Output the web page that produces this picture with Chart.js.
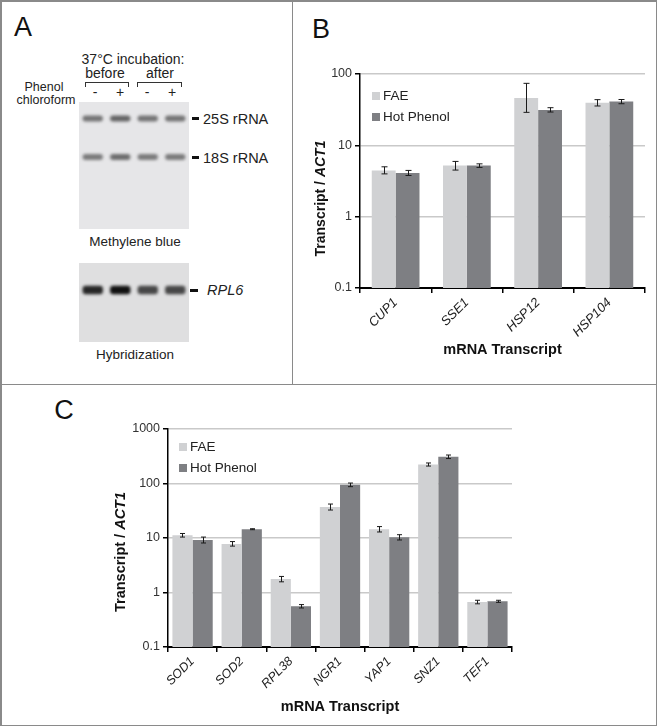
<!DOCTYPE html>
<html>
<head>
<meta charset="utf-8">
<script src="https://cdn.jsdelivr.net/npm/chart.js@4.4.1/dist/chart.umd.min.js"></script>
<style>
  body { margin: 0; background: #fff; }
  #fig { position: relative; width: 657px; height: 727px; font-family: "Liberation Sans", Arial, sans-serif; color: #222; }
  #fig canvas { position: absolute; }
  .t { position: absolute; transform: translate(-50%, -50%); white-space: nowrap; line-height: 1; }
  .tl { position: absolute; transform: translate(0, -50%); white-space: nowrap; line-height: 1; }
  .dash { position: absolute; height: 2.5px; background: #111; }
  .bracket { position: absolute; height: 4px; border: 1.2px solid #333; border-bottom: none; }
  .frame { position: absolute; background: #8a8a8a; }
  .panel { position: absolute; transform: translate(-50%, -50%); font-size: 27px; line-height: 1; color: #111; }
  .legend { position: absolute; font-size: 13.5px; line-height: 1; }
  .legend div { display: flex; align-items: center; height: 21px; }
  .legend span.sw { display: inline-block; width: 8px; height: 8px; margin-right: 3px; }
</style>
</head>
<body>
<div id="fig">
  <!-- frame -->
  <div class="frame" style="left:0;top:0;width:657px;height:1.5px"></div>
  <div class="frame" style="left:0;top:724.5px;width:657px;height:1.5px"></div>
  <div class="frame" style="left:0;top:0;width:1.5px;height:726px"></div>
  <div class="frame" style="left:655.5px;top:0;width:1.5px;height:726px"></div>
  <div class="frame" style="left:291.5px;top:0;width:1.5px;height:384px"></div>
  <div class="frame" style="left:0;top:383.5px;width:657px;height:1.5px"></div>

  <div class="panel" style="left:23px;top:27px">A</div>
  <div class="panel" style="left:321px;top:29px">B</div>
  <div class="panel" style="left:64px;top:410px">C</div>

  <!-- panel A labels -->
  <div class="t" style="left:133px;top:59px;font-size:14px">37°C incubation:</div>
  <div class="t" style="left:105px;top:73px;font-size:14px">before</div>
  <div class="t" style="left:160px;top:73px;font-size:14px">after</div>
  <div class="bracket" style="left:85px;top:82px;width:42px"></div>
  <div class="bracket" style="left:137px;top:82px;width:43px"></div>
  <div class="t" style="left:44px;top:87px;font-size:12.5px">Phenol</div>
  <div class="t" style="left:46px;top:100px;font-size:12.5px">chloroform</div>
  <div id="laneLabels"></div>

  <canvas id="gelTop" width="110" height="127" style="left:79px;top:102px"></canvas>
  <div class="dash" style="left:192px;top:117px;width:7px"></div>
  <div class="tl" style="left:203px;top:118.5px;font-size:14.5px">25S rRNA</div>
  <div class="dash" style="left:192px;top:156px;width:7px"></div>
  <div class="tl" style="left:203px;top:157.5px;font-size:14.5px">18S rRNA</div>
  <div class="t" style="left:135px;top:242px;font-size:13.5px">Methylene blue</div>

  <canvas id="gelBottom" width="110" height="79" style="left:79px;top:263px"></canvas>
  <div class="dash" style="left:190px;top:289px;width:8px"></div>
  <div class="tl" style="left:207px;top:290px;font-size:14.5px;font-style:italic">RPL6</div>
  <div class="t" style="left:135px;top:355px;font-size:13.5px">Hybridization</div>

  <canvas id="chartB" width="363" height="340" style="left:293px;top:40px"></canvas>
  <div class="legend" id="legendB" style="left:372px;top:85px"></div>

  <canvas id="chartC" width="430" height="325" style="left:100px;top:400px"></canvas>
  <div class="legend" id="legendC" style="left:179px;top:436px"></div>
</div>

<script>
// ---- data ----
const seriesNames = ['FAE', 'Hot Phenol'];

const genesB = ['CUP1', 'SSE1', 'HSP12', 'HSP104'];
const faeB = [4.45, 5.2, 46, 39.5];
const hotPhenolB = [4.1, 5.2, 31.4, 41];
const faeRangeB = [[3.98, 5.0], [4.5, 5.95], [29, 74], [35.6, 43.7]];
const hotPhenolRangeB = [[3.78, 4.45], [4.9, 5.5], [29.3, 33.7], [38.3, 43.9]];
const yTicksB = [0.1, 1, 10, 100];
const yTickLabelsB = ['0.1', '1', '10', '100'];

const genesC = ['SOD1', 'SOD2', 'RPL38', 'NGR1', 'YAP1', 'SNZ1', 'TEF1'];
const faeC = [11.2, 7.8, 1.76, 37, 14.5, 223, 0.67];
const hotPhenolC = [9.2, 14.5, 0.56, 94.5, 10.3, 309, 0.69];
const faeRangeC = [[10.4, 12.1], [7.1, 8.6], [1.57, 1.97], [32.6, 42], [12.9, 16.2], [209, 238], [0.62, 0.72]];
const hotPhenolRangeC = [[8.1, 10.4], [14.2, 14.8], [0.52, 0.6], [87.5, 102], [9.2, 11.5], [287, 333], [0.66, 0.72]];
const yTicksC = [0.1, 1, 10, 100, 1000];
const yTickLabelsC = ['0.1', '1', '10', '100', '1000'];

// gel: lanes, phenol chloroform treatment, band darkness per lane, band migration
const gelLanes = ['before -', 'before +', 'after -', 'after +'];
const phenolLabels = ['-', '+', '-', '+'];
const band25S = [0.6, 0.68, 0.6, 0.6];
const band18S = [0.56, 0.64, 0.56, 0.56];
const bandRPL6 = [0.88, 0.98, 0.72, 0.72];
const migration25S = 16.5;
const migration18S = 55;
const migrationRPL6 = 27;

// ---- style ----
const FONT = '"Liberation Sans", Arial, sans-serif';
const FAE_COLOR = '#d0d1d3';
const HP_COLOR = '#7e7f83';
const GRID_COLOR = '#c9c9c9';

// lane labels above the gel
const laneX = [95, 120, 147, 172];
phenolLabels.forEach((s, i) => {
    const d = document.createElement('div');
    d.className = 't';
    d.style.cssText = `left:${laneX[i]}px;top:92px;font-size:14px`;
    d.textContent = s;
    document.getElementById('laneLabels').appendChild(d);
});

function buildLegend(id) {
    const el = document.getElementById(id);
    [FAE_COLOR, HP_COLOR].forEach((c, i) => {
        const row = document.createElement('div');
        row.innerHTML = `<span class="sw" style="background:${c}"></span>${seriesNames[i]}`;
        el.appendChild(row);
    });
}
buildLegend('legendB');
buildLegend('legendC');

// ---- plugins ----
const gelBackground = {
    id: 'gelBackground',
    beforeDraw(chart, args, opts) {
        const { ctx, chartArea: a } = chart;
        ctx.save();
        ctx.fillStyle = opts.color;
        ctx.fillRect(a.left, a.top, a.right - a.left, a.bottom - a.top);
        ctx.restore();
    },
    beforeDatasetsDraw(chart, args, opts) {
        chart.ctx.save();
        chart.ctx.filter = `blur(${opts.blur}px)`;
    },
    afterDatasetsDraw(chart) {
        chart.ctx.restore();
    }
};

const errorBars = {
    id: 'errorBars',
    afterDatasetsDraw(chart, args, opts) {
        const { ctx } = chart;
        const y = chart.scales.y;
        ctx.save();
        ctx.strokeStyle = '#1a1a1a';
        ctx.lineWidth = 1;
        chart.data.datasets.forEach((ds, di) => {
            const meta = chart.getDatasetMeta(di);
            meta.data.forEach((bar, i) => {
                const [lo, hi] = opts.ranges[di][i];
                const x = Math.round(bar.x) + 0.5;
                const yl = y.getPixelForValue(lo);
                const yh = y.getPixelForValue(hi);
                ctx.beginPath();
                ctx.moveTo(x, yl); ctx.lineTo(x, yh);
                ctx.moveTo(x - opts.cap, yl); ctx.lineTo(x + opts.cap, yl);
                ctx.moveTo(x - opts.cap, yh); ctx.lineTo(x + opts.cap, yh);
                ctx.stroke();
            });
        });
        ctx.restore();
    }
};

const yTitle = {
    id: 'yTitle',
    afterDraw(chart, args, opts) {
        const { ctx, chartArea: a } = chart;
        const part1 = 'Transcript / ';
        const part2 = 'ACT1';
        ctx.save();
        ctx.fillStyle = '#111';
        ctx.textBaseline = 'middle';
        ctx.font = `bold ${opts.size}px ${FONT}`;
        const w1 = ctx.measureText(part1).width;
        ctx.font = `italic bold ${opts.size}px ${FONT}`;
        const w2 = ctx.measureText(part2).width;
        ctx.translate(opts.x, (a.top + a.bottom) / 2 + opts.dy);
        ctx.rotate(-Math.PI / 2);
        const start = -(w1 + w2) / 2;
        ctx.font = `bold ${opts.size}px ${FONT}`;
        ctx.fillText(part1, start, 0);
        ctx.font = `italic bold ${opts.size}px ${FONT}`;
        ctx.fillText(part2, start + w1, 0);
        ctx.restore();
    }
};

// ---- gels ----
function gelChart(id, bands, height, bg, thickness, base, blur) {
    return new Chart(document.getElementById(id), {
        type: 'bar',
        data: {
            labels: gelLanes,
            datasets: bands.map(b => ({
                data: b.dark.map(() => [b.pos - thickness / 2, b.pos + thickness / 2]),
                backgroundColor: b.dark.map(v => `rgba(${base},${base},${base},${v})`),
                borderRadius: 3,
                borderSkipped: false,
                grouped: false,
                barPercentage: 0.74,
                categoryPercentage: 1
            }))
        },
        options: {
            responsive: false,
            animation: false,
            layout: { padding: 0 },
            plugins: { legend: { display: false }, tooltip: { enabled: false }, gelBackground: { color: bg, blur: blur } },
            scales: {
                x: { display: false, offset: true },
                y: { display: false, reverse: true, min: 0, max: height }
            }
        },
        plugins: [gelBackground]
    });
}

gelChart('gelTop', [
    { pos: migration25S, dark: band25S },
    { pos: migration18S, dark: band18S }
], 127, '#e6e6e8', 6, 40, 1.5);

gelChart('gelBottom', [
    { pos: migrationRPL6, dark: bandRPL6 }
], 79, '#dfdfe0', 8.5, 12, 1.8);

// ---- bar charts ----
function barChart(id, cfg) {
    return new Chart(document.getElementById(id), {
        type: 'bar',
        data: {
            labels: cfg.labels,
            datasets: [
                { label: seriesNames[0], data: cfg.fae, backgroundColor: FAE_COLOR },
                { label: seriesNames[1], data: cfg.hp, backgroundColor: HP_COLOR }
            ]
        },
        options: {
            responsive: false,
            animation: false,
            layout: { padding: cfg.padding },
            datasets: { bar: { categoryPercentage: cfg.catPct, barPercentage: 1 } },
            plugins: {
                legend: { display: false },
                tooltip: { enabled: false },
                errorBars: { ranges: cfg.ranges, cap: cfg.cap },
                yTitle: cfg.yTitle
            },
            scales: {
                x: {
                    grid: { drawOnChartArea: false, drawTicks: true, tickLength: 5, tickColor: '#000', lineWidth: 1.5, offset: true },
                    border: { color: '#000', width: 2 },
                    ticks: {
                        autoSkip: false, minRotation: 45, maxRotation: 45, padding: 2,
                        color: '#222', font: { family: FONT, size: cfg.tickSize, style: 'italic' }
                    },
                    title: {
                        display: true, text: 'mRNA Transcript', color: '#111',
                        font: { family: FONT, size: 14.5, weight: 'bold' },
                        padding: { top: 0, bottom: cfg.titlePad }
                    },
                    afterFit: s => { s.height = cfg.xHeight; }
                },
                y: {
                    type: 'logarithmic',
                    min: cfg.yTicks[0],
                    max: cfg.yTicks[cfg.yTicks.length - 1],
                    afterBuildTicks: s => { s.ticks = cfg.yTicks.map(v => ({ value: v })); },
                    grid: { color: GRID_COLOR, lineWidth: 1.5, tickColor: '#000', tickLength: 5 },
                    border: { color: '#000', width: 1.5 },
                    ticks: {
                        padding: 3, color: '#333',
                        font: { family: FONT, size: 12.5 },
                        callback: (v, i) => cfg.yLabels[i]
                    },
                    afterFit: s => { s.width = cfg.yWidth; }
                }
            }
        },
        plugins: [errorBars, yTitle]
    });
}

barChart('chartB', {
    labels: genesB, fae: faeB, hp: hotPhenolB,
    ranges: [faeRangeB, hotPhenolRangeB], cap: 3,
    yTicks: yTicksB, yLabels: yTickLabelsB,
    padding: { top: 34, right: 11, left: 0, bottom: 0 },
    yWidth: 67, xHeight: 92, titlePad: 21, catPct: 0.67, tickSize: 13,
    yTitle: { x: 28, dy: 17.5, size: 14 }
});

barChart('chartC', {
    labels: genesC, fae: faeC, hp: hotPhenolC,
    ranges: [faeRangeC, hotPhenolRangeC], cap: 2.5,
    yTicks: yTicksC, yLabels: yTickLabelsC,
    padding: { top: 29, right: 18, left: 0, bottom: 0 },
    yWidth: 68, xHeight: 78, titlePad: 9.5, catPct: 0.82, tickSize: 12.5,
    yTitle: { x: 21, dy: 14, size: 14.5 }
});
</script>
</body>
</html>
